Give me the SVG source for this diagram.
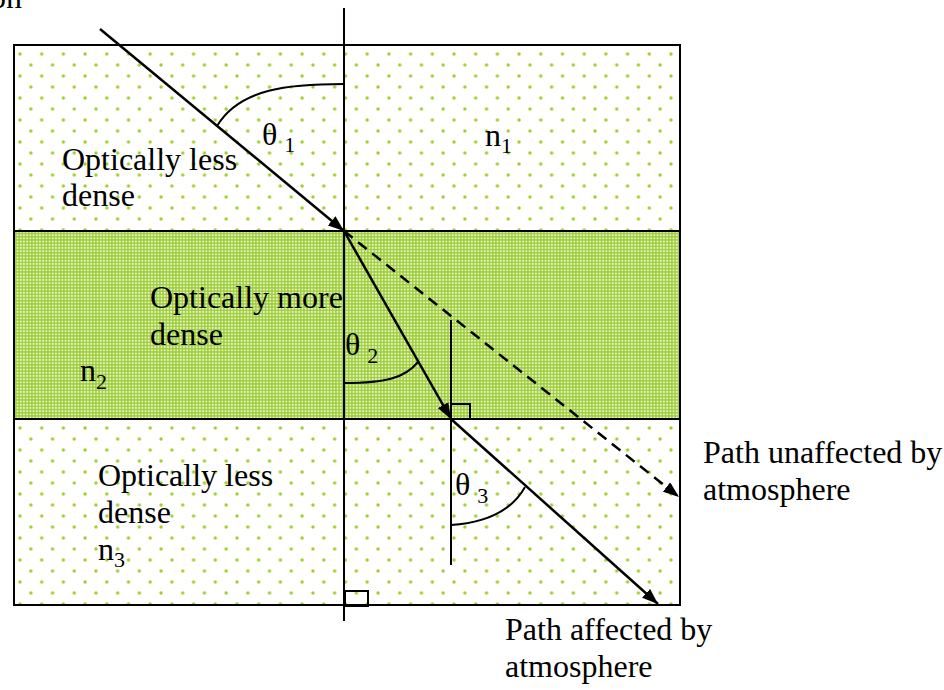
<svg xmlns="http://www.w3.org/2000/svg" width="944" height="690" viewBox="0 0 944 690">
<style>
.t{font-family:"Liberation Serif","Times New Roman",serif;font-size:32px;fill:#000}
.s{font-size:22px}
.ln{stroke:#000;stroke-width:2;fill:none}
.ray{stroke:#000;stroke-width:2.5;fill:none}
</style>
<defs>
<pattern id="dots" patternUnits="userSpaceOnUse" x="36.7" y="49" width="21.7" height="22">
<rect width="21.7" height="22" fill="#fff"/>
<circle cx="5" cy="5" r="1.7" fill="#9fd02a"/>
<circle cx="15.85" cy="16" r="1.7" fill="#9fd02a"/>
</pattern>
<pattern id="green" patternUnits="userSpaceOnUse" width="3.2" height="3.2">
<rect width="3.2" height="3.2" fill="#a0cf3c"/>
<rect x="0.7" y="0.7" width="1.6" height="1.6" fill="#fff" opacity="0.9"/>
</pattern>
<marker id="ah" markerUnits="userSpaceOnUse" markerWidth="18" markerHeight="12" refX="16" refY="6" orient="auto">
<path d="M0,0 L16,6 L0,12 Z" fill="#000"/>
</marker>
</defs>

<g id="layers">
<rect x="14" y="45" width="666" height="186" fill="url(#dots)"/>
<rect x="14" y="231" width="666" height="188" fill="url(#green)"/>
<rect x="14" y="419" width="666" height="186" fill="url(#dots)"/>
<rect x="14" y="45" width="666" height="560" class="ln"/>
<line x1="14" y1="231" x2="680" y2="231" class="ln"/>
<line x1="14" y1="419" x2="680" y2="419" class="ln"/>
</g>

<g id="normals">
<line x1="344" y1="8" x2="344" y2="621" class="ln"/>
<line x1="451" y1="320" x2="451" y2="565" class="ln"/>
<rect x="345" y="591" width="23" height="15" class="ln"/>
<rect x="451" y="404" width="19" height="15" class="ln"/>
</g>

<g id="connectors">
<line x1="100" y1="29" x2="344" y2="231" class="ray" marker-end="url(#ah)"/>
<line x1="344" y1="231" x2="451" y2="419" class="ray" marker-end="url(#ah)"/>
<line x1="451" y1="419" x2="658" y2="604" class="ray" marker-end="url(#ah)"/>
<line x1="344" y1="231" x2="679" y2="497" class="ray" stroke-dasharray="11,7" marker-end="url(#ah)"/>
</g>

<g id="angles">
<path d="M344,84 C290,84 240,88 217,126" class="ln"/>
<path d="M345,383 C385,383 405,378 418,362" class="ln"/>
<path d="M451,525 C495,522 515,505 525,487" class="ln"/>
</g>

<g id="labels">
<text class="t" x="22" y="8" text-anchor="end">on</text>
<text class="t" x="262" y="145">θ<tspan class="s" dx="7" dy="7">1</tspan></text>
<text class="t" x="485" y="146">n<tspan class="s" dy="7">1</tspan></text>
<text class="t" x="62" y="170">Optically less</text>
<text class="t" x="62" y="206">dense</text>
<text class="t" x="150" y="308">Optically more</text>
<text class="t" x="150" y="345">dense</text>
<text class="t" x="345" y="355">θ<tspan class="s" dx="7" dy="8">2</tspan></text>
<text class="t" x="80" y="381">n<tspan class="s" dy="8">2</tspan></text>
<text class="t" x="98" y="486">Optically less</text>
<text class="t" x="98" y="523">dense</text>
<text class="t" x="98" y="560">n<tspan class="s" dy="7">3</tspan></text>
<text class="t" x="455" y="495">θ<tspan class="s" dx="7" dy="8">3</tspan></text>
<text class="t" x="703" y="463">Path unaffected by</text>
<text class="t" x="703" y="500">atmosphere</text>
<text class="t" x="505" y="640">Path affected by</text>
<text class="t" x="505" y="677">atmosphere</text>
</g>
</svg>
